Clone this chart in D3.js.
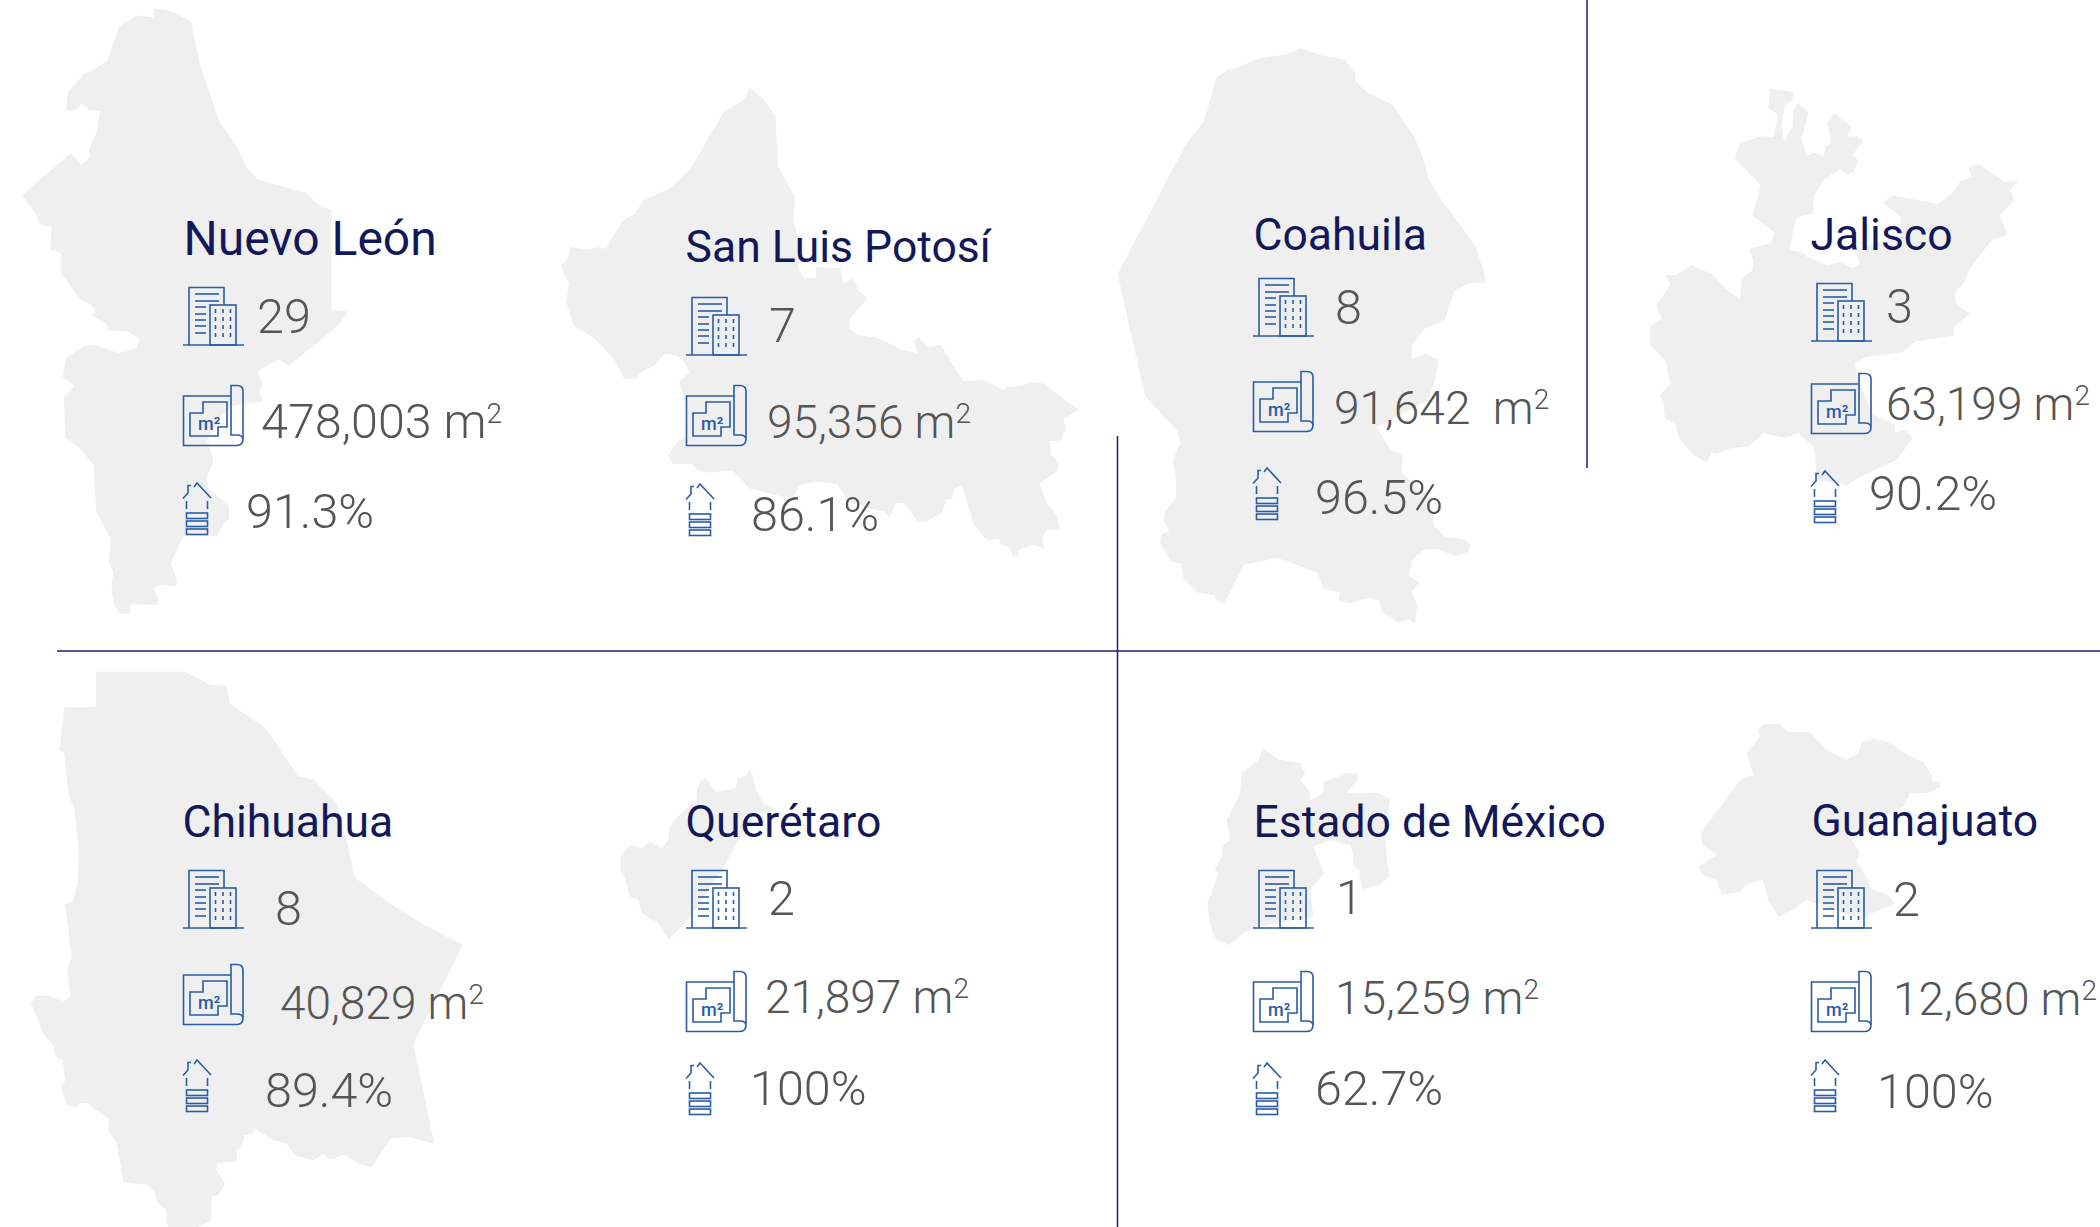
<!DOCTYPE html>
<html>
<head>
<meta charset="utf-8">
<title>Portafolio por estado</title>
<script src="https://cdn.jsdelivr.net/npm/d3@7"></script>
<style>
    html, body { margin: 0; background: #fff; }
    svg { display: block; }
    .state-name { font-family: Roboto, sans-serif; font-weight: 400; fill: #12185a; }
    .metric { font-family: Roboto, sans-serif; font-weight: 300; font-size: 48.5px; fill: #555; }
    .icon path, .icon rect, .icon line { fill: none; stroke: #2a5ca6; stroke-width: 1.6; }
    .icon text { font-family: Roboto, sans-serif; font-weight: 500; font-size: 18px; fill: #2a5ca6; }
</style>
</head>
<body>
<script>
var states = ["Nuevo León", "San Luis Potosí", "Coahuila", "Jalisco", "Chihuahua", "Querétaro", "Estado de México", "Guanajuato"];
var buildings = ["29", "7", "8", "3", "8", "2", "1", "2"];
var areas = ["478,003 m", "95,356 m", "91,642  m", "63,199 m", "40,829 m", "21,897 m", "15,259 m", "12,680 m"];
var occupancy = ["91.3%", "86.1%", "96.5%", "90.2%", "89.4%", "100%", "62.7%", "100%"];

// state outlines, traced on the reference crops (crop pixels)
var outlineNuevoLeon = [[430,20],[478,27],[536,53],[560,160],[615,300],[665,362],[690,410],[722,440],[855,472],[900,507],[928,513],[928,760],[975,763],[950,795],[808,897],[780,880],[735,902],[722,915],[736,940],[726,960],[736,983],[650,995],[620,1020],[580,1080],[598,1130],[580,1165],[582,1195],[640,1238],[642,1272],[625,1285],[608,1314],[520,1310],[512,1318],[478,1380],[497,1425],[492,1437],[448,1432],[430,1442],[445,1470],[438,1482],[365,1480],[365,1505],[335,1503],[318,1480],[312,1440],[317,1400],[305,1378],[311,1320],[270,1255],[262,1140],[225,1100],[183,1072],[179,972],[210,945],[174,925],[186,875],[238,847],[268,845],[330,865],[383,853],[390,832],[360,813],[302,810],[300,795],[255,772],[268,760],[257,748],[222,733],[171,668],[171,620],[140,612],[145,557],[110,548],[100,525],[62,478],[198,375],[228,405],[256,382],[248,370],[270,325],[280,272],[250,270],[230,255],[208,272],[185,270],[190,225],[236,182],[300,150],[333,65],[383,38],[430,42]];
var outlineSanLuis = [[588,82],[628,120],[660,170],[666,320],[714,410],[709,480],[721,530],[722,625],[740,655],[774,653],[771,620],[842,625],[849,672],[878,653],[890,690],[917,715],[865,780],[865,805],[888,825],[945,833],[1010,868],[1056,880],[1048,842],[1060,830],[1087,860],[1122,855],[1185,963],[1245,960],[1298,990],[1310,980],[1345,978],[1370,968],[1408,968],[1478,1027],[1511,1050],[1467,1074],[1471,1110],[1458,1142],[1428,1143],[1431,1185],[1453,1210],[1448,1235],[1398,1270],[1420,1330],[1447,1365],[1456,1408],[1418,1410],[1405,1435],[1413,1465],[1380,1455],[1340,1470],[1338,1490],[1325,1490],[1315,1465],[1288,1450],[1285,1437],[1250,1440],[1215,1395],[1182,1275],[1157,1290],[1155,1315],[1137,1320],[1125,1360],[1078,1385],[1058,1385],[1022,1330],[998,1328],[978,1375],[965,1355],[920,1345],[860,1320],[832,1272],[770,1265],[727,1275],[710,1310],[680,1310],[585,1285],[540,1232],[470,1238],[443,1232],[425,1212],[372,1212],[358,1187],[380,1150],[410,1125],[415,1060],[390,965],[418,935],[400,900],[378,885],[348,882],[322,915],[283,938],[268,957],[236,957],[205,895],[152,835],[95,797],[73,730],[81,670],[58,618],[76,597],[88,560],[125,570],[165,560],[183,567],[233,480],[265,463],[290,420],[360,388],[422,325],[515,155],[570,120]];
var outlineCoahuila = [[604,46],[655,62],[735,75],[765,110],[768,130],[805,160],[875,187],[940,265],[972,330],[985,375],[1020,425],[1060,470],[1128,548],[1157,628],[1157,640],[1110,640],[1062,660],[1035,733],[975,755],[937,795],[934,832],[975,818],[1016,835],[1005,885],[985,935],[830,1005],[875,1065],[908,1072],[905,1120],[990,1185],[1003,1255],[1037,1282],[1090,1287],[1112,1302],[1105,1320],[1065,1330],[1010,1312],[970,1315],[938,1337],[926,1380],[960,1397],[935,1420],[952,1455],[945,1500],[925,1490],[895,1500],[848,1472],[835,1443],[808,1435],[752,1450],[715,1443],[720,1422],[695,1418],[670,1412],[652,1372],[530,1335],[432,1353],[372,1452],[348,1442],[344,1430],[290,1422],[250,1388],[243,1350],[215,1345],[180,1298],[183,1275],[208,1268],[190,1238],[197,1215],[228,1183],[228,1140],[218,1088],[241,1045],[232,1015],[135,925],[53,617],[255,293],[312,230],[350,120],[385,100],[420,93],[472,72],[560,62]];
var outlineJalisco = [[510,86],[580,95],[578,120],[555,135],[545,195],[552,245],[578,200],[580,152],[592,130],[625,157],[605,235],[620,288],[642,278],[672,290],[675,262],[695,248],[682,187],[703,160],[755,200],[740,230],[770,228],[790,245],[758,283],[775,302],[760,335],[742,345],[720,328],[670,360],[640,410],[640,460],[590,472],[567,570],[610,578],[620,590],[680,615],[720,607],[760,625],[778,612],[768,570],[905,525],[900,465],[848,430],[878,405],[1015,432],[1060,397],[1080,365],[1115,350],[1105,322],[1135,312],[1215,365],[1255,362],[1230,390],[1243,420],[1200,465],[1222,525],[1175,540],[1110,625],[1090,670],[1063,700],[1070,735],[1110,760],[1063,800],[1060,828],[945,845],[905,878],[800,890],[765,910],[770,945],[815,1060],[885,1095],[885,1120],[915,1108],[938,1135],[890,1200],[780,1250],[740,1275],[650,1260],[645,1180],[640,1160],[595,1120],[555,1133],[490,1120],[450,1158],[395,1165],[345,1182],[335,1175],[320,1210],[280,1185],[235,1130],[228,1095],[195,1075],[190,1030],[180,1005],[210,972],[198,905],[150,855],[150,800],[185,775],[168,735],[212,675],[196,645],[228,645],[275,615],[340,645],[375,685],[420,718],[425,655],[458,630],[460,600],[447,567],[510,550],[525,520],[458,468],[482,375],[404,295],[420,250],[485,228],[520,232],[535,165],[505,145]];
var outlineChihuahua = [[288,85],[555,85],[628,118],[680,122],[690,170],[797,235],[895,365],[940,372],[1010,435],[1040,540],[1065,635],[1180,710],[1282,765],[1388,815],[1240,1080],[1303,1345],[1220,1327],[1172,1332],[1115,1408],[1075,1400],[1035,1375],[990,1388],[972,1373],[940,1390],[885,1377],[860,1345],[818,1335],[765,1305],[755,1320],[733,1322],[725,1352],[710,1362],[710,1392],[652,1398],[648,1415],[675,1452],[655,1483],[636,1485],[634,1550],[595,1568],[503,1568],[497,1520],[470,1500],[465,1478],[445,1455],[370,1450],[350,1340],[325,1315],[325,1278],[280,1250],[268,1238],[245,1237],[222,1250],[215,1243],[200,1243],[184,1192],[196,1175],[188,1125],[165,1110],[162,1085],[132,1055],[92,970],[110,950],[145,950],[193,965],[212,950],[202,885],[215,845],[195,705],[218,700],[232,650],[237,570],[222,445],[207,420],[192,300],[178,295],[193,180],[288,178]];
var outlineQueretaro = [[452,85],[468,150],[490,190],[530,210],[470,222],[410,310],[360,400],[265,540],[205,598],[175,550],[125,520],[115,480],[90,470],[78,420],[62,390],[62,350],[90,315],[125,325],[150,305],[185,325],[205,300],[207,265],[228,235],[290,180],[290,150],[305,118],[320,118],[348,155],[408,145],[412,115],[440,105]];
var outlineEdomex = [[220,55],[265,88],[330,100],[345,130],[332,150],[360,188],[358,212],[400,190],[403,155],[470,130],[502,130],[505,145],[470,190],[520,190],[565,188],[600,210],[585,300],[590,380],[598,440],[570,463],[520,478],[510,450],[508,420],[488,405],[490,370],[480,345],[420,330],[370,350],[403,430],[360,480],[370,560],[200,590],[160,610],[118,645],[75,625],[62,590],[52,520],[85,430],[75,420],[98,375],[95,350],[120,330],[110,270],[150,190],[155,130],[205,90]];
var outlineGuanajuato = [[250,72],[298,72],[325,97],[390,95],[435,145],[470,165],[500,178],[535,160],[545,125],[580,117],[625,125],[690,170],[730,185],[755,225],[755,243],[780,247],[780,262],[745,278],[690,280],[670,320],[600,350],[515,420],[540,460],[530,485],[560,530],[570,565],[625,585],[645,610],[625,620],[575,640],[550,660],[380,600],[345,625],[295,650],[265,600],[248,540],[200,553],[180,575],[125,585],[110,540],[62,522],[58,498],[110,465],[68,435],[62,400],[180,240],[220,225],[200,160],[240,110],[233,90]];
var outlines = [outlineNuevoLeon, outlineSanLuis, outlineCoahuila, outlineJalisco, outlineChihuahua, outlineQueretaro, outlineEdomex, outlineGuanajuato];

// crop windows the outlines were read in: left, top, width, height, traced width, traced height
var cropWindows = [
    [0, 0, 560, 640, 1568, 1568], [540, 60, 560, 520, 1568, 1560],
    [1100, 30, 500, 620, 1500, 1568], [1600, 60, 500, 440, 1500, 1320],
    [0, 640, 500, 587, 1500, 1568], [600, 740, 500, 400, 1500, 1200],
    [1190, 730, 500, 420, 1500, 1260], [1680, 700, 420, 420, 1260, 1260]
];

// card layout
var titleSize = [48, 44.5, 44.5, 44.5, 44.5, 44.5, 44.5, 44.5];
var areaSize = [48.5, 46, 46, 46, 46, 46, 46, 46];
var titlePos = [[183.5, 255], [685.5, 262], [1253.5, 250], [1810.5, 250], [182.5, 837], [685.5, 837], [1253.5, 837], [1811.5, 836]];
var buildingPos = [[183, 287], [686, 297], [1253, 278], [1811, 283], [183, 870], [686, 870], [1253, 870], [1811, 870]];
var countPos = [[257, 333], [769, 342], [1335, 324], [1886, 323], [275, 925], [768, 915], [1336, 914], [1893, 916]];
var planPos = [[183, 385], [686, 385], [1253, 371], [1811, 373], [183, 964], [686, 971], [1253, 971], [1811, 971]];
var areaPos = [[261, 438], [767, 438], [1334, 424], [1886, 420], [280, 1019], [765, 1013], [1335, 1014], [1893, 1015]];
var housePos = [[183, 483], [686, 484], [1253, 468], [1811, 471], [183, 1060], [686, 1063], [1253, 1063], [1811, 1060]];
var occupancyPos = [[246, 528], [751, 531], [1315, 514], [1869, 510], [265, 1107], [750, 1105], [1315, 1105], [1877, 1108]];

var dividers = [
    { x1: 57, y1: 651, x2: 2100, y2: 651 },
    { x1: 1117.5, y1: 436, x2: 1117.5, y2: 1227 },
    { x1: 1587, y1: 0, x2: 1587, y2: 468 }
];

var svg = d3.select("body").append("svg").attr("width", 2100).attr("height", 1227);

states.forEach(function(name, i) {
    var c = cropWindows[i];
    var x = d3.scaleLinear().domain([0, c[4]]).range([c[0], c[0] + c[2]]);
    var y = d3.scaleLinear().domain([0, c[5]]).range([c[1], c[1] + c[3]]);
    var line = d3.line().x(function(d) { return x(d[0]); }).y(function(d) { return y(d[1]); });
    svg.append("path").attr("d", line(outlines[i]) + "Z").attr("fill", "#efefef");
});

svg.selectAll("line.divider").data(dividers).enter().append("line")
    .attr("class", "divider")
    .attr("x1", function(d) { return d.x1; }).attr("y1", function(d) { return d.y1; })
    .attr("x2", function(d) { return d.x2; }).attr("y2", function(d) { return d.y2; })
    .attr("stroke", "#1b2069").attr("stroke-width", 1.5);

function drawBuilding(g) {
    g.append("path").attr("d", "M6,58 L6,0.5 L41,0.5 L41,18");
    g.append("rect").attr("x", 27).attr("y", 18).attr("width", 26).attr("height", 40);
    g.append("line").attr("x1", 0).attr("y1", 58).attr("x2", 61).attr("y2", 58);
    [7, 14].forEach(function(v) {
        g.append("line").attr("x1", 12).attr("y1", v).attr("x2", 36).attr("y2", v);
    });
    [20, 27, 33, 39, 46].forEach(function(v) {
        g.append("line").attr("x1", 12).attr("y1", v).attr("x2", 23).attr("y2", v);
    });
    [32.5, 40, 47.5].forEach(function(v) {
        g.append("line").attr("x1", v).attr("y1", 22).attr("x2", v).attr("y2", 50).attr("stroke-dasharray", "4 4");
    });
}

function drawPlan(g) {
    g.append("path").attr("d", "M48,11 L0.5,11 L0.5,60.5 L54,60.5 Q60,60.5 60,54 L60,6 Q60,0.5 54,0.5 L48,0.5 L48,50 L54,50 Q60,50 60,55");
    g.append("path").attr("d", "M7,28 L20,28 L20,17 L44,17 L44,42 L35,42 L35,51 L7,51 Z");
    g.append("text").attr("x", 15).attr("y", 44.5).text("m²");
}

function drawHouse(g) {
    g.append("path").attr("d", "M0,15.5 L5,10 L5,2.5 L8,2.5 M11,4 L14,0 L28,15");
    [3.5, 24.5].forEach(function(v) {
        g.append("line").attr("x1", v).attr("y1", 18).attr("x2", v).attr("y2", 26);
    });
    [30, 38, 46].forEach(function(v) {
        g.append("rect").attr("x", 3.5).attr("y", v).attr("width", 21).attr("height", 5.5);
    });
}

function placeIcon(pos, draw) {
    var g = svg.append("g").attr("class", "icon").attr("transform", "translate(" + pos[0] + "," + pos[1] + ")");
    draw(g);
}

states.forEach(function(name, i) {
    svg.append("text").attr("class", "state-name").attr("x", titlePos[i][0]).attr("y", titlePos[i][1])
        .style("font-size", titleSize[i] + "px").text(name);

    placeIcon(buildingPos[i], drawBuilding);
    placeIcon(planPos[i], drawPlan);
    placeIcon(housePos[i], drawHouse);

    svg.append("text").attr("class", "metric").attr("x", countPos[i][0]).attr("y", countPos[i][1]).text(buildings[i]);

    var area = svg.append("text").attr("class", "metric").attr("x", areaPos[i][0]).attr("y", areaPos[i][1])
        .attr("xml:space", "preserve").style("white-space", "pre").style("font-size", areaSize[i] + "px");
    area.append("tspan").text(areas[i]);
    area.append("tspan").attr("dy", -15).style("font-size", "28px").text("2");

    svg.append("text").attr("class", "metric").attr("x", occupancyPos[i][0]).attr("y", occupancyPos[i][1]).text(occupancy[i]);
});
</script>
</body>
</html>
